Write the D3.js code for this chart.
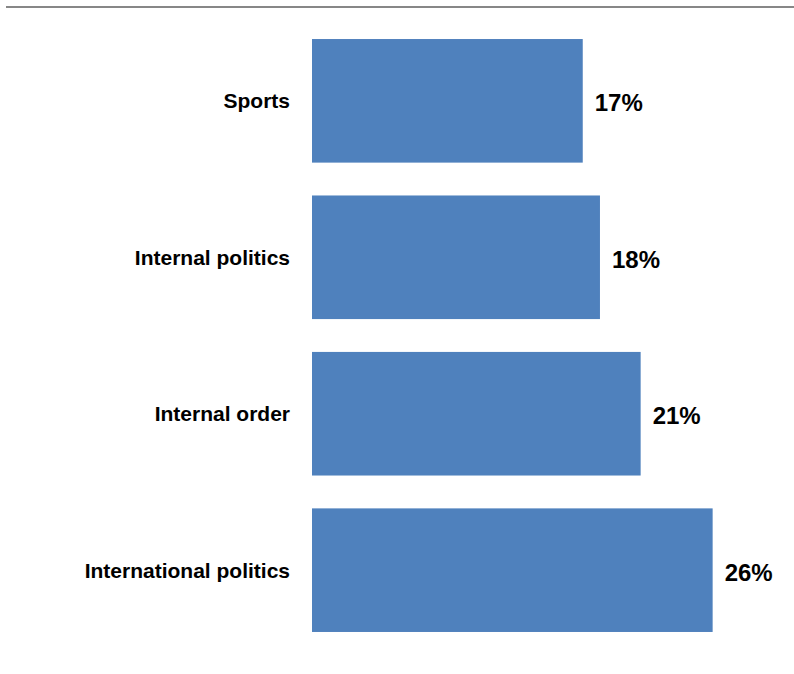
<!DOCTYPE html>
<html>
<head>
<meta charset="utf-8">
<script src="https://cdn.jsdelivr.net/npm/d3@7"></script>
<style>
  html, body { margin: 0; padding: 0; background: #fff; }
  svg { display: block; }
</style>
</head>
<body>
<svg id="chart" width="794" height="674"></svg>
<script>
const categories = ["Sports", "Internal politics", "Internal order", "International politics"];
const values = [17.3, 18.4, 21.0, 25.6];

const svg = d3.select("#chart");
const W = 794, H = 674;

// top rule
svg.append("line")
  .attr("x1", 6).attr("x2", W)
  .attr("y1", 7).attr("y2", 7)
  .attr("stroke", "#878787").attr("stroke-width", 2);

const x = d3.scaleLinear().domain([0, 30]).range([312, 312 + 15.65 * 30]);
const y = d3.scaleBand().domain(categories).range([22.6, 648.4])
  .paddingInner(0.21).paddingOuter(0.105);

const data = categories.map((c, i) => ({ c, v: values[i] }));

svg.selectAll("rect.bar").data(data).enter().append("rect")
  .attr("class", "bar")
  .attr("x", x(0))
  .attr("y", d => y(d.c))
  .attr("width", d => x(d.v) - x(0))
  .attr("height", y.bandwidth())
  .attr("fill", "#4F81BD");

const fmt = d3.format(".0f");

svg.selectAll("text.cat").data(data).enter().append("text")
  .attr("class", "cat")
  .attr("x", 290)
  .attr("y", d => y(d.c) + y.bandwidth() / 2)
  .attr("dy", "0.35em")
  .attr("text-anchor", "end")
  .attr("font-family", "Liberation Sans, Arial, sans-serif")
  .attr("font-weight", "bold")
  .attr("font-size", 21)
  .attr("fill", "#000")
  .text(d => d.c);

svg.selectAll("text.val").data(data).enter().append("text")
  .attr("class", "val")
  .attr("x", d => x(d.v) + 12)
  .attr("y", d => y(d.c) + y.bandwidth() / 2 + 2)
  .attr("dy", "0.35em")
  .attr("text-anchor", "start")
  .attr("font-family", "Liberation Sans, Arial, sans-serif")
  .attr("font-weight", "bold")
  .attr("font-size", 24)
  .attr("fill", "#000")
  .text(d => fmt(d.v) + "%");
</script>
</body>
</html>
